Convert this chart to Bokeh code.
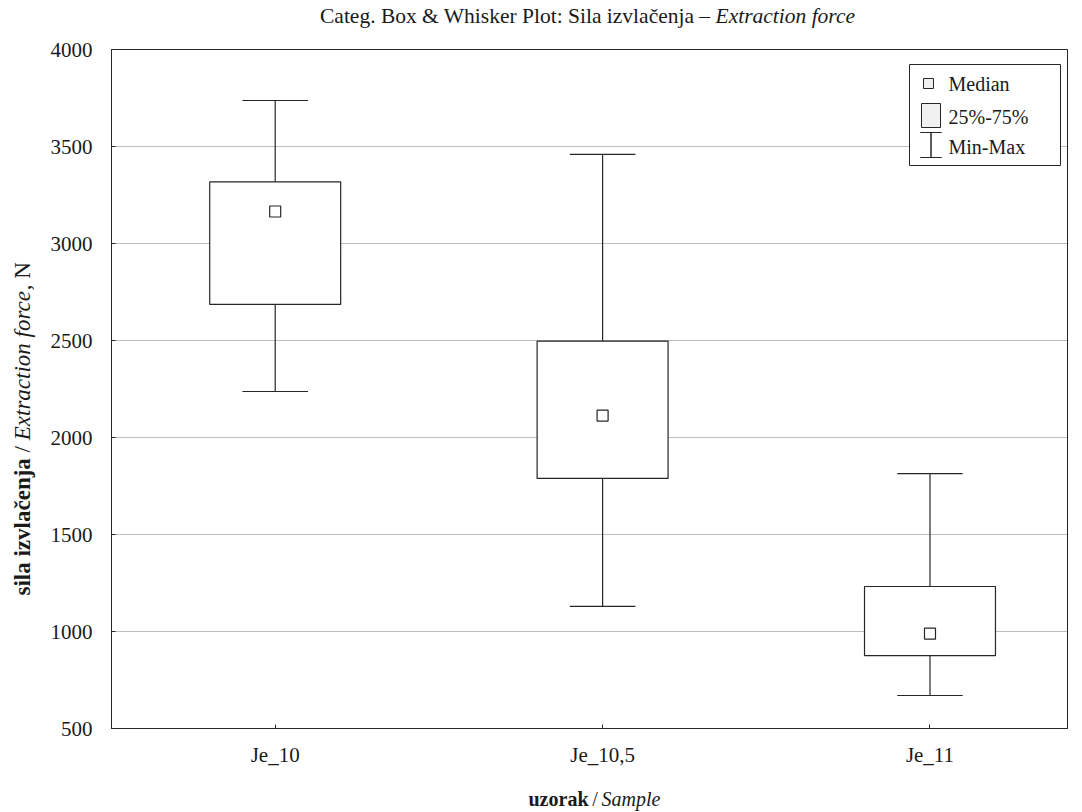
import math
from bokeh.plotting import figure
from bokeh.layouts import column, row
from bokeh.models import (ColumnDataSource, Range1d, FixedTicker, Label,
                          BoxAnnotation, PolyAnnotation)
from bokeh.core.properties import value
from bokeh.transform import dodge
from bokeh.embed import file_html
from bokeh.resources import INLINE

# ---- data ----
samples = ["Je_10", "Je_10,5", "Je_11"]
max_vals = [3737, 3459, 1814]
q3_vals = [3318, 2497, 1232]
median_vals = [3165, 2113, 989]
q1_vals = [2686, 1789, 876]
min_vals = [2237, 1129, 670]
y_ticks = [500, 1000, 1500, 2000, 2500, 3000, 3500, 4000]

FONT = "Liberation Serif"
INK = "#262626"
TXT = "#1a1a1a"

W, H = 1082, 812
TOP_H = 30          # title strip
BOT_H = 40          # x-axis label strip
LEFT_W = 45         # y-axis label strip
MAIN_H = H - TOP_H - BOT_H
FRAME_TOP, FRAME_BOTTOM = 49, 728

xpos = list(range(len(samples)))
src = ColumnDataSource(dict(x=xpos, mx=max_vals, q3=q3_vals, med=median_vals,
                            q1=q1_vals, mn=min_vals))

p = figure(width=W - LEFT_W, height=MAIN_H, output_backend="svg", toolbar_location=None,
           x_range=Range1d(-0.5, 2.42), y_range=Range1d(500, 4000),
           min_border_left=111 - LEFT_W, min_border_right=15,
           min_border_top=FRAME_TOP - TOP_H,
           min_border_bottom=MAIN_H - (FRAME_TOP - TOP_H) - (FRAME_BOTTOM - FRAME_TOP),
           background_fill_color="white", border_fill_color="white")

p.outline_line_color = INK
p.outline_line_width = 1
p.outline_line_alpha = 1

# axes
p.xaxis.ticker = FixedTicker(ticks=xpos)
p.xaxis.major_label_overrides = {i: s for i, s in enumerate(samples)}
p.yaxis.ticker = FixedTicker(ticks=y_ticks)
for ax in (p.xaxis[0], p.yaxis[0]):
    ax.axis_line_color = INK
    ax.major_tick_line_color = INK
    ax.major_tick_in = 4
    ax.major_tick_out = 0
    ax.minor_tick_line_color = None
    ax.major_label_text_font = FONT
    ax.major_label_text_font_size = "21px"
    ax.major_label_text_color = TXT
p.yaxis.major_label_standoff = 19
p.xaxis.major_label_standoff = 14

# grid
p.xgrid.grid_line_color = None
p.ygrid.ticker = FixedTicker(ticks=y_ticks)
p.ygrid.grid_line_color = "#7a7a7a"
p.ygrid.grid_line_dash = "1 1"
p.ygrid.grid_line_width = 1

# whiskers
p.segment(x0="x", y0="q3", x1="x", y1="mx", source=src, line_color=INK, line_width=1.2)
p.segment(x0="x", y0="q1", x1="x", y1="mn", source=src, line_color=INK, line_width=1.2)
p.segment(x0=dodge("x", -0.1), y0="mx", x1=dodge("x", 0.1), y1="mx", source=src,
          line_color=INK, line_width=1.2)
p.segment(x0=dodge("x", -0.1), y0="mn", x1=dodge("x", 0.1), y1="mn", source=src,
          line_color=INK, line_width=1.2)
# boxes
p.vbar(x="x", width=0.4, top="q3", bottom="q1", source=src, fill_color="white",
       line_color=INK, line_width=1.2)
# medians
p.scatter(x="x", y="med", source=src, marker="square", size=11, fill_color="white",
          line_color=INK, line_width=1.2)

# ---- legend (drawn by hand, canvas pixels of the main figure) ----
OX, OY = LEFT_W, TOP_H   # offset of main figure inside the page


def box(l, r, t, b, fill):
    return BoxAnnotation(left=l - OX, right=r - OX, top=t - OY, bottom=b - OY,
                         left_units="canvas", right_units="canvas",
                         top_units="canvas", bottom_units="canvas",
                         fill_color=fill, fill_alpha=1, line_color=INK,
                         line_alpha=1, line_width=1)


p.add_layout(box(909, 1060, 64, 165, "white"))
p.add_layout(box(923, 933, 78, 88, "#f0f0f0"))
p.add_layout(box(921, 940, 103, 127, "#f0f0f0"))
wx, wl, wr, wt, wb = 930.5 - OX, 920 - OX, 941 - OX, 132 - OY, 157 - OY
p.add_layout(PolyAnnotation(xs=[wx, wl, wr, wx, wx, wl, wr, wx],
                            ys=[wt, wt, wt, wt, wb, wb, wb, wb],
                            xs_units="canvas", ys_units="canvas",
                            fill_alpha=0, line_color=INK, line_alpha=1, line_width=1))
for txt, yy in (("Median", 83), ("25%-75%", 116), ("Min-Max", 146)):
    p.add_layout(Label(x=948 - OX, y=yy - OY, x_units="canvas", y_units="canvas",
                       text=txt, text_font=FONT, text_font_size="20px",
                       text_color=TXT, text_baseline="middle", text_align="left"))


# ---- text strips (title, axis labels with mixed styles) ----
def strip(w, h, xr, yr):
    f = figure(width=w, height=h, output_backend="svg", toolbar_location=None,
               x_range=Range1d(*xr), y_range=Range1d(*yr),
               min_border=0, min_border_left=0, min_border_right=0,
               min_border_top=0, min_border_bottom=0,
               x_axis_location=None, y_axis_location=None,
               background_fill_color="white", border_fill_color="white")
    f.outline_line_color = None
    f.xgrid.visible = False
    f.ygrid.visible = False
    return f


def put(f, x, y, txt, style="normal", size="20px", align="left", angle=0.0):
    f.text(x=[x], y=[y], text=[txt], text_font=value(FONT),
           text_font_style=value(style), text_font_size=value(size),
           text_color=TXT, text_align=align, text_baseline="middle", angle=angle)


top = strip(W, TOP_H, (0, W), (TOP_H, 0))
put(top, 710, 15, "Categ. Box & Whisker Plot: Sila izvlačenja \u2013", "normal", "21.5px", "right")
put(top, 715, 15, "Extraction force", "italic", "21.5px", "left")

# the left strip's frame lines up with the main frame (page y 49..728)
left = strip(LEFT_W, MAIN_H, (0, LEFT_W), (FRAME_BOTTOM, FRAME_TOP))
A = math.pi / 2
YS = 23  # px font size of the y-axis title
y0 = 595
put(left, 22, y0, "sila izvlačenja", "bold", f"{YS}px", "left", A)
y1 = y0 - 5.972 * YS
put(left, 22, y1 - 0.389 * YS, "/", "normal", f"{YS}px", "center", A)
y2 = y1 - 0.778 * YS
put(left, 22, y2, "Extraction force", "italic", f"{YS}px", "left", A)
y3 = y2 - 6.527 * YS
put(left, 22, y3, ", N", "normal", f"{YS}px", "left", A)

bottom = strip(W, BOT_H, (0, W), (H, H - BOT_H))
put(bottom, 588, 798, "uzorak", "bold", "20px", "right")
put(bottom, 594.5, 798, "/", "normal", "20px", "center")
put(bottom, 601, 798, "Sample", "italic", "20px", "left")

page = column(top, row(left, p), bottom)
open("out.html", "w").write(file_html(page, INLINE))
